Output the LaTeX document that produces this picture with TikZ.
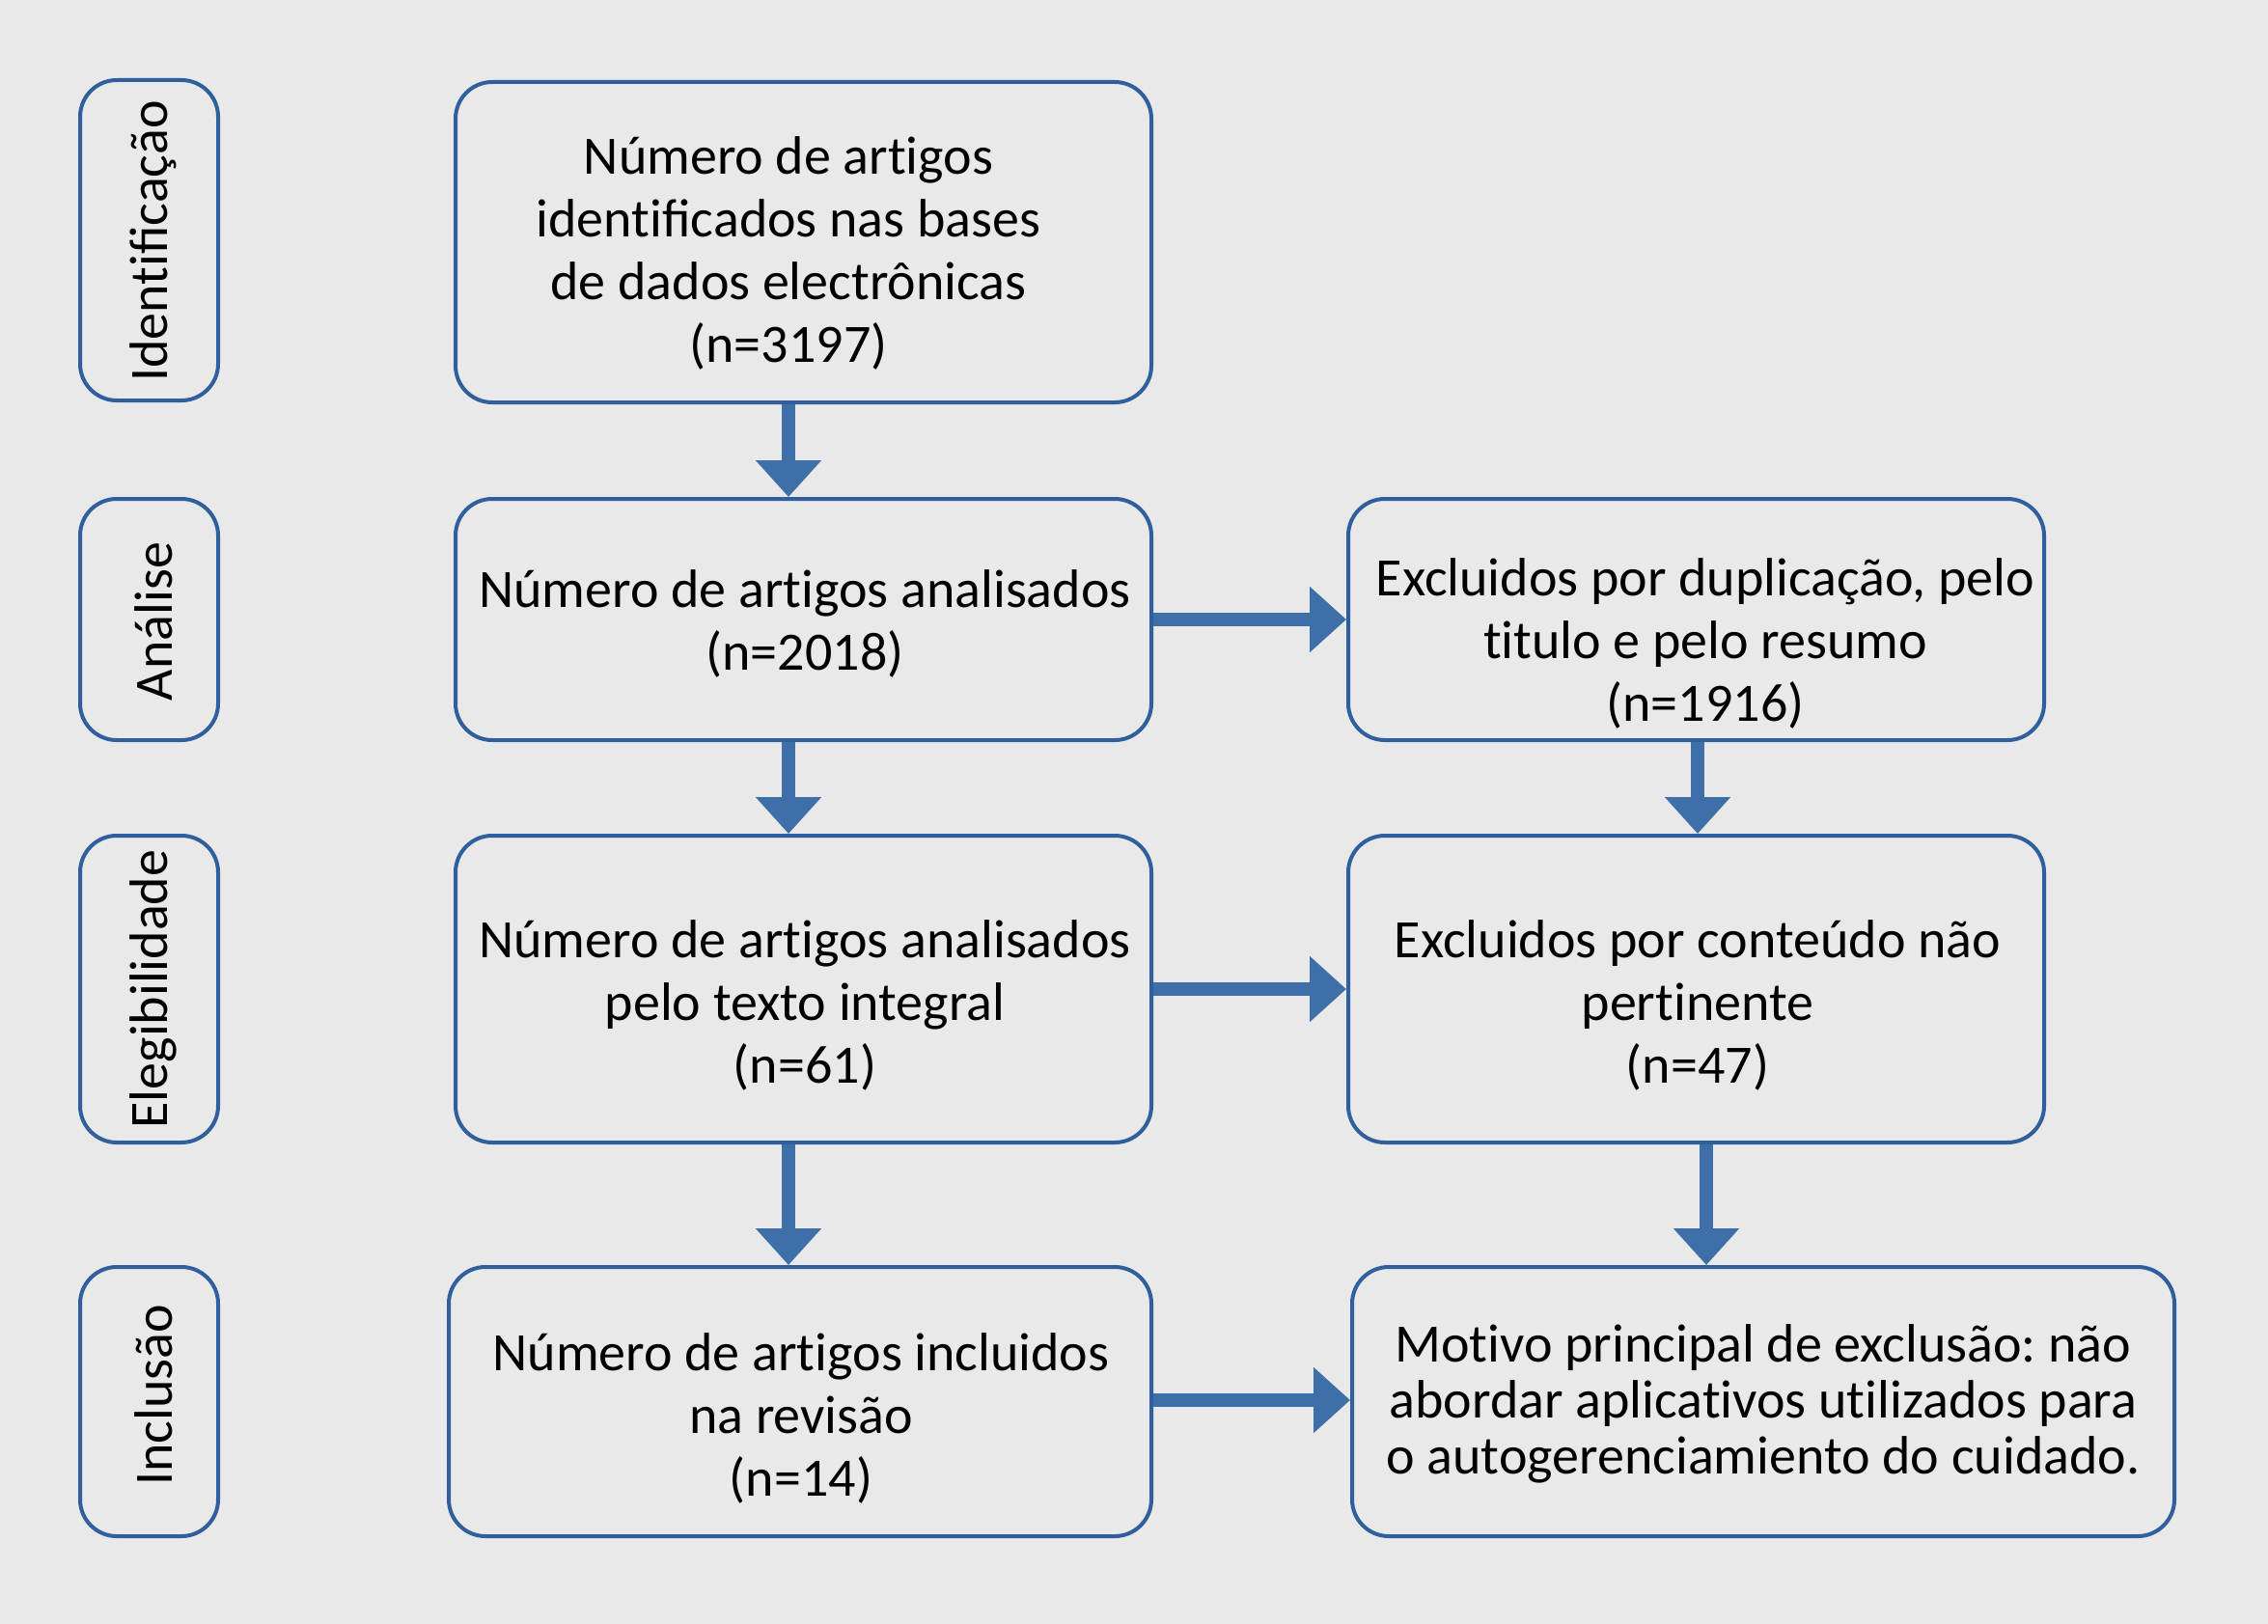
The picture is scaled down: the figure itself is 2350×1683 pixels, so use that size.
\documentclass[tikz,border=0pt]{standalone}
\usepackage{fontspec}
\setmainfont{Carlito}
\usetikzlibrary{arrows.meta}
\frenchspacing
\definecolor{bg}{HTML}{E9E9E9}
\definecolor{bord}{HTML}{2F5F9D}
\definecolor{arrc}{HTML}{3F6FA8}
\newcommand\tI{t\kern0pt i}
\tikzset{
  box/.style={draw=bord, line width=4pt, rounded corners=38pt, inner sep=0pt},
  txt/.style={align=center, font=\fontsize{56}{65}\selectfont\frenchspacing, inner sep=0pt},
  sidetxt/.style={rotate=90, font=\fontsize{56}{65}\selectfont, inner sep=0pt},
  arr/.style={draw=arrc, line width=14pt, -{Triangle[width=66pt,length=38pt]}}
}
\begin{document}
\begin{tikzpicture}[x=1pt,y=-1pt]
\fill[bg] (0,0) rectangle (2350,1683);
\useasboundingbox (0,0) rectangle (2350,1683);
% side boxes
\node[box, minimum width=143pt, minimum height=332pt] (s1) at (154.5,249) {};
\node[box, minimum width=143pt, minimum height=250pt] (s2) at (154.5,642) {};
\node[box, minimum width=143pt, minimum height=318pt] (s3) at (154.5,1025) {};
\node[box, minimum width=143pt, minimum height=279pt] (s4) at (154.5,1452.5) {};
\node[sidetxt] (l1) at (159,250) {Iden\tI ficação};
\node[sidetxt] (l2) at (159,644) {Análise};
\node[sidetxt] (l3) at (159,1025) {Elegibilidade};
\node[sidetxt] (l4) at (159,1446) {Inclusão};
% main boxes
\node[box, minimum width=721pt, minimum height=332pt] (b1) at (832.5,251) {};
\node[box, minimum width=721pt, minimum height=250pt] (b2) at (832.5,642) {};
\node[box, minimum width=721pt, minimum height=250pt] (b3) at (1757.5,642) {};
\node[box, minimum width=721pt, minimum height=318pt] (b4) at (832.5,1025) {};
\node[box, minimum width=721pt, minimum height=318pt] (b5) at (1757.5,1025) {};
\node[box, minimum width=728pt, minimum height=279pt] (b6) at (829,1452.5) {};
\node[box, minimum width=852pt, minimum height=279pt] (b7) at (1827,1452.5) {};
% texts
\node[txt] (t1) at (817,262) {Número de ar\tI gos\\iden\tI ficados nas bases\\de dados electrônicas\\(n=3197)};
\node[txt] (t2) at (834,646) {Número de ar\tI gos analisados\\(n=2018)};
\node[txt] (t3) at (1767,667) {Excluidos por duplicação, pelo\\\tI tulo e pelo resumo\\(n=1916)};
\node[txt] (t4) at (834,1042) {Número de ar\tI gos analisados\\pelo texto integral\\(n=61)};
\node[txt] (t5) at (1759,1042) {Excluidos por conteúdo não\\per\tI nente\\(n=47)};
\node[txt] (t6) at (830,1470) {Número de ar\tI gos incluidos\\na revisão\\(n=14)};
\node[txt, font=\fontsize{56}{58}\selectfont\frenchspacing] (t7) at (1827,1455) {Mo\tI vo principal de exclusão: não\\abordar aplica\tI vos u\tI lizados para\\o autogerenciamiento do cuidado.};
% arrows
\draw[arr] (b1.south -| 817,0) -- (b2.north -| 817,0);
\draw[arr] (b2.south -| 817,0) -- (b4.north -| 817,0);
\draw[arr] (b4.south -| 817,0) -- (b6.north -| 817,0);
\draw[arr] (b3.south -| 1759,0) -- (b5.north -| 1759,0);
\draw[arr] (b5.south -| 1768,0) -- (b7.north -| 1768,0);
\draw[arr] (b2.east) -- (b3.west);
\draw[arr] (b4.east) -- (b5.west);
\draw[arr] (b6.east |- 0,1451) -- (b7.west |- 0,1451);
\end{tikzpicture}
\end{document}
